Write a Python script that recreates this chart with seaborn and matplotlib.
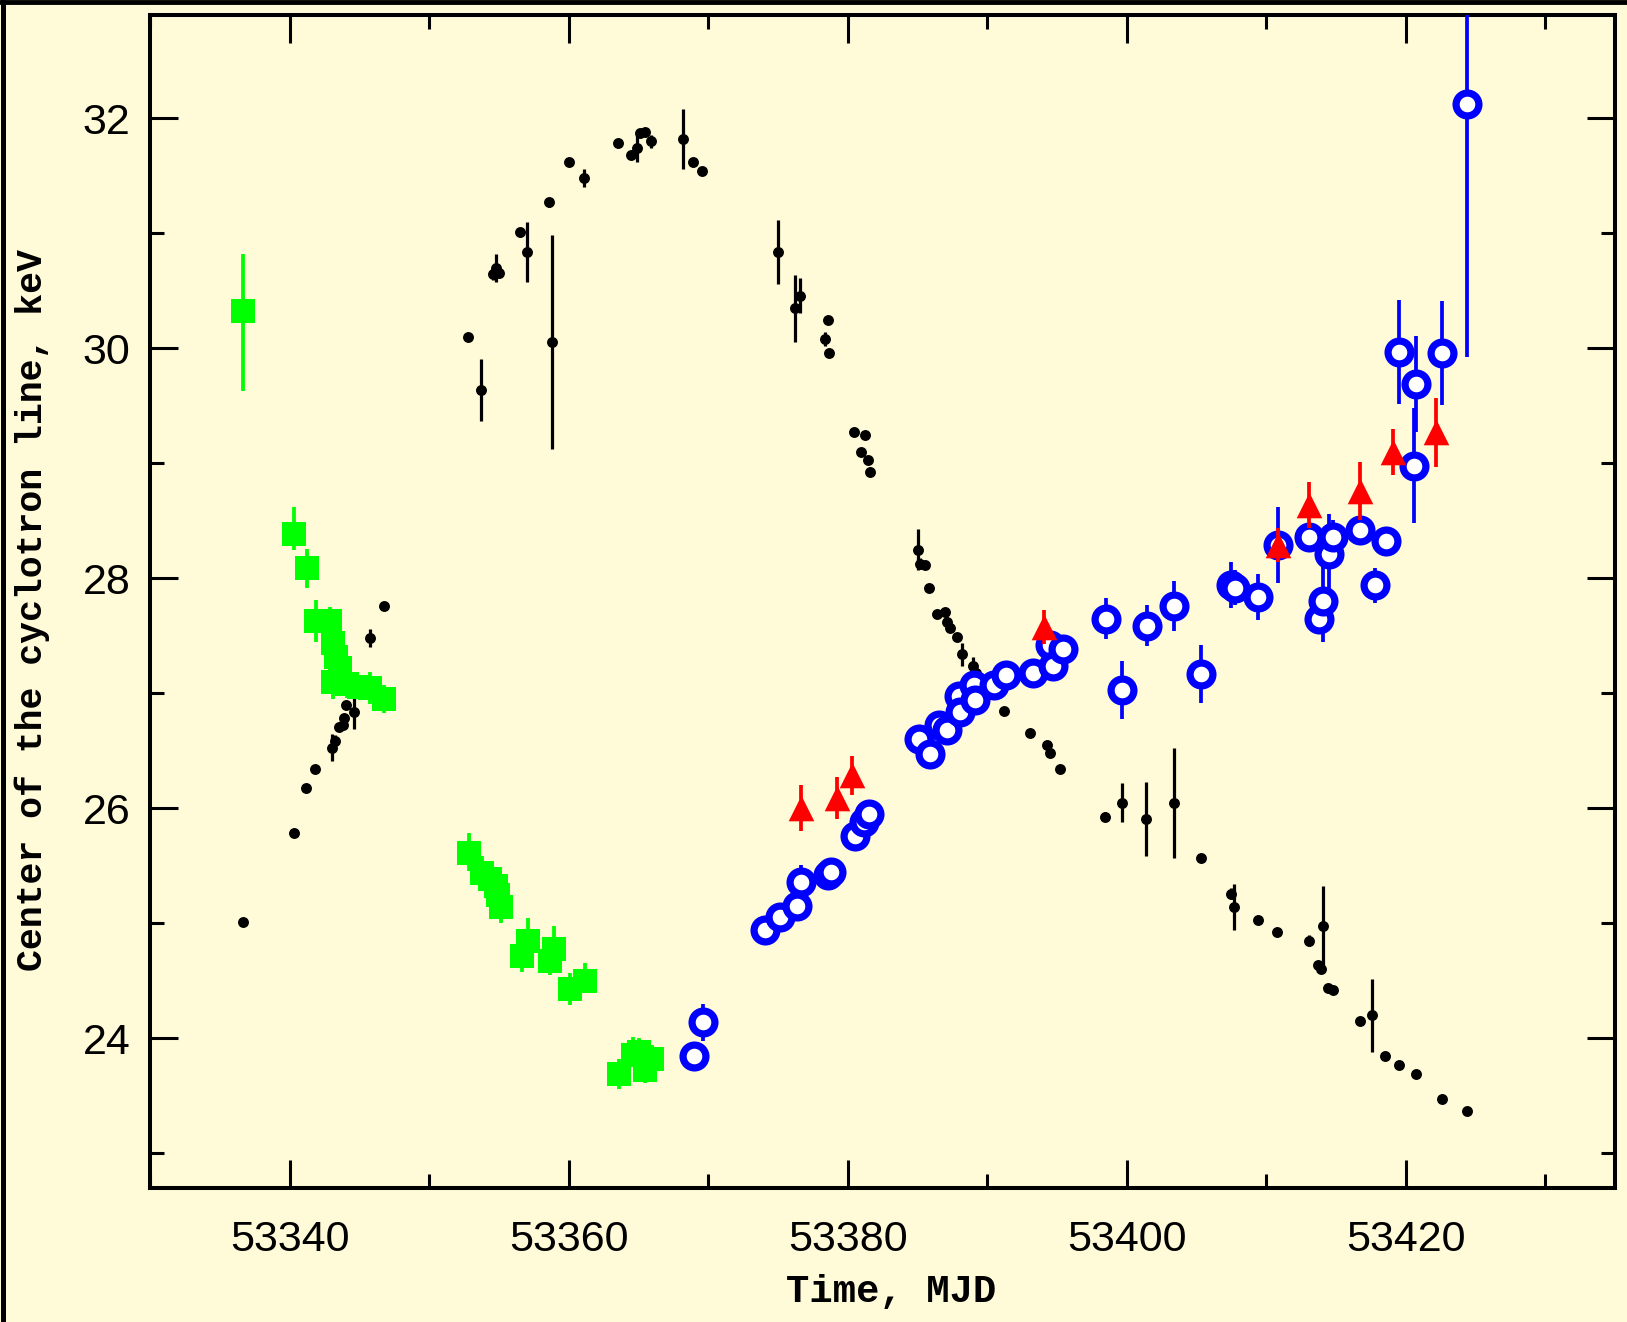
import numpy as np
import pandas as pd
import matplotlib
matplotlib.use("Agg")
import matplotlib.pyplot as plt
from matplotlib.lines import Line2D
from matplotlib.ticker import MultipleLocator
import seaborn as sns

# ---- data: black dots ----
black_x = [53336.66, 53340.31, 53341.15, 53341.86, 53343.05, 53343.29, 53343.57, 53343.8, 53343.88, 53344.08, 53344.6, 53345.75, 53346.74,
           53352.79, 53353.74, 53354.6, 53354.8, 53355.0, 53356.51, 53357.05, 53358.6, 53358.84, 53360.0, 53361.13, 53363.53, 53364.51,
           53364.92, 53365.1, 53365.5, 53365.9, 53368.22, 53368.89, 53369.53,
           53375.01, 53376.2, 53376.6, 53378.36, 53378.56, 53378.67, 53380.46, 53380.99, 53381.27, 53381.46, 53381.58,
           53385.03, 53385.2, 53385.55, 53385.8, 53386.39, 53386.99, 53387.11, 53387.35, 53387.82, 53388.18, 53389.01, 53389.2,
           53391.22, 53393.1, 53394.26, 53394.54, 53395.25,
           53398.47, 53399.66, 53401.37, 53403.37, 53405.3, 53407.45, 53407.7, 53409.39, 53410.8, 53413.1, 53413.7, 53413.9,
           53414.07, 53414.4, 53414.8, 53416.7, 53417.6, 53418.5, 53419.5, 53420.76, 53422.6, 53424.4]
black_y = [25.01, 25.79, 26.18, 26.34, 26.53, 26.59, 26.71, 26.73, 26.79, 26.90, 26.84, 27.48, 27.76,
           30.10, 29.64, 30.65, 30.70, 30.66, 31.01, 30.84, 31.27, 30.06, 31.62, 31.48, 31.79, 31.68,
           31.74, 31.87, 31.88, 31.80, 31.82, 31.62, 31.54,
           30.84, 30.35, 30.46, 30.08, 30.25, 29.96, 29.27, 29.10, 29.25, 29.03, 28.93,
           28.25, 28.13, 28.12, 27.92, 27.69, 27.71, 27.62, 27.57, 27.49, 27.34, 27.24, 27.18,
           26.85, 26.66, 26.55, 26.48, 26.34,
           25.93, 26.05, 25.91, 26.05, 25.57, 25.26, 25.14, 25.03, 24.93, 24.85, 24.64, 24.60,
           24.98, 24.44, 24.42, 24.15, 24.20, 23.85, 23.77, 23.69, 23.47, 23.37]
black_err = [0, 0, 0, 0, 0.12, 0.05, 0, 0, 0, 0, 0.15, 0.08, 0,
             0, 0.27, 0.05, 0.12, 0.05, 0.04, 0.26, 0.04, 0.93, 0, 0.08, 0, 0,
             0.12, 0, 0, 0.06, 0.26, 0.03, 0,
             0.28, 0.29, 0.15, 0.06, 0, 0, 0, 0, 0, 0, 0,
             0.18, 0.05, 0, 0, 0, 0, 0, 0, 0, 0.10, 0.08, 0,
             0, 0, 0, 0, 0,
             0.04, 0.17, 0.32, 0.48, 0, 0.05, 0.20, 0, 0, 0.05, 0, 0,
             0.35, 0, 0, 0, 0.32, 0, 0, 0, 0, 0]

# ---- data: green squares ----
green_x = [53336.66, 53340.35, 53341.23, 53341.9, 53342.9, 53343.1, 53343.3, 53343.6, 53343.1, 53343.6, 53344.1, 53345.0,
           53345.8, 53346.8, 53352.88, 53353.83, 53354.38, 53354.78, 53354.96, 53355.15, 53356.63, 53357.1, 53358.68,
           53358.92, 53360.11, 53361.18, 53363.62, 53364.62, 53365.05, 53365.48, 53366.0]
green_y = [30.33, 28.39, 28.09, 27.63, 27.63, 27.44, 27.32, 27.22, 27.10, 27.12, 27.08, 27.06,
           27.05, 26.95, 25.61, 25.44, 25.39, 25.33, 25.25, 25.14, 24.72, 24.85, 24.67,
           24.78, 24.43, 24.50, 23.69, 23.86, 23.88, 23.73, 23.82]
green_lo = [0.70, 0.14, 0.17, 0.18, 0.15, 0.15, 0.12, 0.12, 0.15, 0.12, 0.12, 0.10,
            0.14, 0.12, 0.15, 0.12, 0.10, 0.10, 0.10, 0.14, 0.14, 0.10, 0.12,
            0.10, 0.14, 0.10, 0.13, 0.10, 0.10, 0.12, 0.10]
green_hi = [0.49, 0.23, 0.17, 0.18, 0.12, 0.15, 0.12, 0.12, 0.15, 0.12, 0.12, 0.10,
            0.14, 0.12, 0.18, 0.15, 0.10, 0.10, 0.10, 0.10, 0.10, 0.20, 0.20,
            0.20, 0.14, 0.16, 0.13, 0.15, 0.12, 0.10, 0.12]

# ---- data: blue open circles ----
blue_x = [53368.97, 53369.64, 53374.1, 53375.14, 53376.4, 53376.63, 53378.56, 53378.8, 53380.56, 53381.16, 53381.52,
          53385.1, 53385.94, 53386.53, 53387.13, 53387.96, 53388.08, 53389.03, 53389.16, 53390.47, 53391.37, 53393.29,
          53394.53, 53394.7, 53395.44, 53398.54, 53399.66, 53401.44, 53403.37, 53405.3, 53407.46, 53407.8, 53409.4,
          53410.88, 53413.1, 53413.8, 53414.1, 53414.5, 53414.8, 53416.7, 53417.8, 53418.6, 53419.49, 53420.6,
          53420.76, 53422.6, 53424.4]
blue_y = [23.85, 24.14, 24.94, 25.06, 25.15, 25.36, 25.42, 25.45, 25.76, 25.88, 25.95,
          26.60, 26.47, 26.73, 26.68, 26.98, 26.84, 27.07, 26.94, 27.07, 27.16, 27.18,
          27.42, 27.24, 27.39, 27.65, 27.03, 27.59, 27.76, 27.17, 27.94, 27.92, 27.84,
          28.29, 28.36, 27.65, 27.80, 28.21, 28.36, 28.42, 27.94, 28.33, 29.97, 28.98,
          29.69, 29.96, 32.13]
blue_err = [0.12, 0.16, 0.05, 0.08, 0.10, 0.15, 0.10, 0.12, 0.08, 0.10, 0.12,
            0.10, 0.12, 0.10, 0.10, 0.10, 0.12, 0.10, 0.12, 0.08, 0.08, 0.10,
            0.10, 0.10, 0.10, 0.18, 0.25, 0.18, 0.22, 0.25, 0.20, 0.15, 0.20,
            0.33, 0.12, 0.10, 0.35, 0.35, 0.15, 0.10, 0.15, 0.10, 0.45, 0.50,
            0.42, 0.45, 2.20]

# ---- data: red triangles ----
red_x = [53376.63, 53379.23, 53380.34, 53394.05, 53410.88, 53413.1, 53416.7, 53419.1, 53422.16]
red_y = [26.00, 26.09, 26.29, 27.58, 28.29, 28.64, 28.76, 29.10, 29.27]
red_err = [0.20, 0.18, 0.17, 0.15, 0.15, 0.20, 0.25, 0.20, 0.30]

x_ticks = [53340, 53360, 53380, 53400, 53420]
y_ticks = [24, 26, 28, 30, 32]
x_label = "Time, MJD"
y_label = "Center of the cyclotron line, keV"

# ---- style ----
BG = "#fffad7"
sns.set_theme(style="ticks")
plt.rcParams["font.family"] = ["Liberation Sans", "DejaVu Sans"]

W, H = 1627, 1322
fig = plt.figure(figsize=(W / 100, H / 100), dpi=100, facecolor=BG)
ax = fig.add_axes([150 / W, 1 - 1188 / H, (1615 - 150) / W, (1188 - 15) / H])
ax.set_facecolor(BG)

df_black = pd.DataFrame({"x": black_x, "y": black_y, "e": black_err})
df_green = pd.DataFrame({"x": green_x, "y": green_y, "lo": green_lo, "hi": green_hi})
df_blue = pd.DataFrame({"x": blue_x, "y": blue_y, "e": blue_err})
df_red = pd.DataFrame({"x": red_x, "y": red_y, "e": red_err})

# black
ax.errorbar(df_black["x"], df_black["y"], yerr=df_black["e"], fmt="none", ecolor="black", elinewidth=2.3, zorder=2)
sns.scatterplot(data=df_black, x="x", y="y", ax=ax, color="black", s=62, marker="o", linewidth=0, zorder=3)

# blue
ax.errorbar(df_blue["x"], df_blue["y"], yerr=df_blue["e"], fmt="none", ecolor="#0000ff", elinewidth=2.7, zorder=4)
sns.scatterplot(data=df_blue, x="x", y="y", ax=ax, marker="o", s=270, facecolor="white",
                edgecolor="#0000ff", linewidth=5.2, zorder=5)

# red
ax.errorbar(df_red["x"], df_red["y"], yerr=df_red["e"], fmt="none", ecolor="#ff0000", elinewidth=2.7, zorder=6)
sns.scatterplot(data=df_red, x="x", y="y", ax=ax, marker="^", s=340, color="#ff0000", linewidth=0, zorder=7)

# green
ax.errorbar(df_green["x"], df_green["y"], yerr=[df_green["lo"], df_green["hi"]], fmt="none",
            ecolor="#00ff00", elinewidth=2.7, zorder=8)
sns.scatterplot(data=df_green, x="x", y="y", ax=ax, marker="s", s=300, color="#00ff00", linewidth=0, zorder=9)

ax.set_xlim(53330, 53435)
ax.set_ylim(22.7, 32.9)
ax.set_xticks(x_ticks)
ax.set_yticks(y_ticks)
ax.xaxis.set_minor_locator(MultipleLocator(10))
ax.yaxis.set_minor_locator(MultipleLocator(1))
ax.tick_params(which="both", direction="in", top=True, right=True, width=2.2, color="black")
ax.tick_params(which="major", length=20)
ax.tick_params(which="minor", length=10)
ax.tick_params(axis="x", which="major", labelsize=31, pad=23, labelcolor="black")
ax.tick_params(axis="y", which="major", labelsize=31, pad=14, labelcolor="black")
for s in ax.spines.values():
    s.set_linewidth(2.9)
    s.set_color("black")

mono = ["Liberation Mono", "DejaVu Sans Mono"]
ax.set_xlabel(x_label, fontsize=28, family=mono, fontweight="bold", color="black")
ax.set_ylabel(y_label, fontsize=26.3, family=mono, fontweight="bold", color="black")
ax.xaxis.set_label_coords(0.548, 1 - 1292 / H, transform=fig.transFigure)
ax.xaxis.label.set_va("center")
ax.yaxis.set_label_coords(32 / W, 1 - 610 / H, transform=fig.transFigure)
ax.yaxis.label.set_va("center")
ax.grid(False)

# black frame on top and left of figure
fig.add_artist(Line2D([0, 1], [1 - 2 / H, 1 - 2 / H], transform=fig.transFigure, color="black", linewidth=3.5))
fig.add_artist(Line2D([2.5 / W, 2.5 / W], [0, 1], transform=fig.transFigure, color="black", linewidth=3.6))

fig.savefig("out.png", dpi=100, facecolor=BG)
